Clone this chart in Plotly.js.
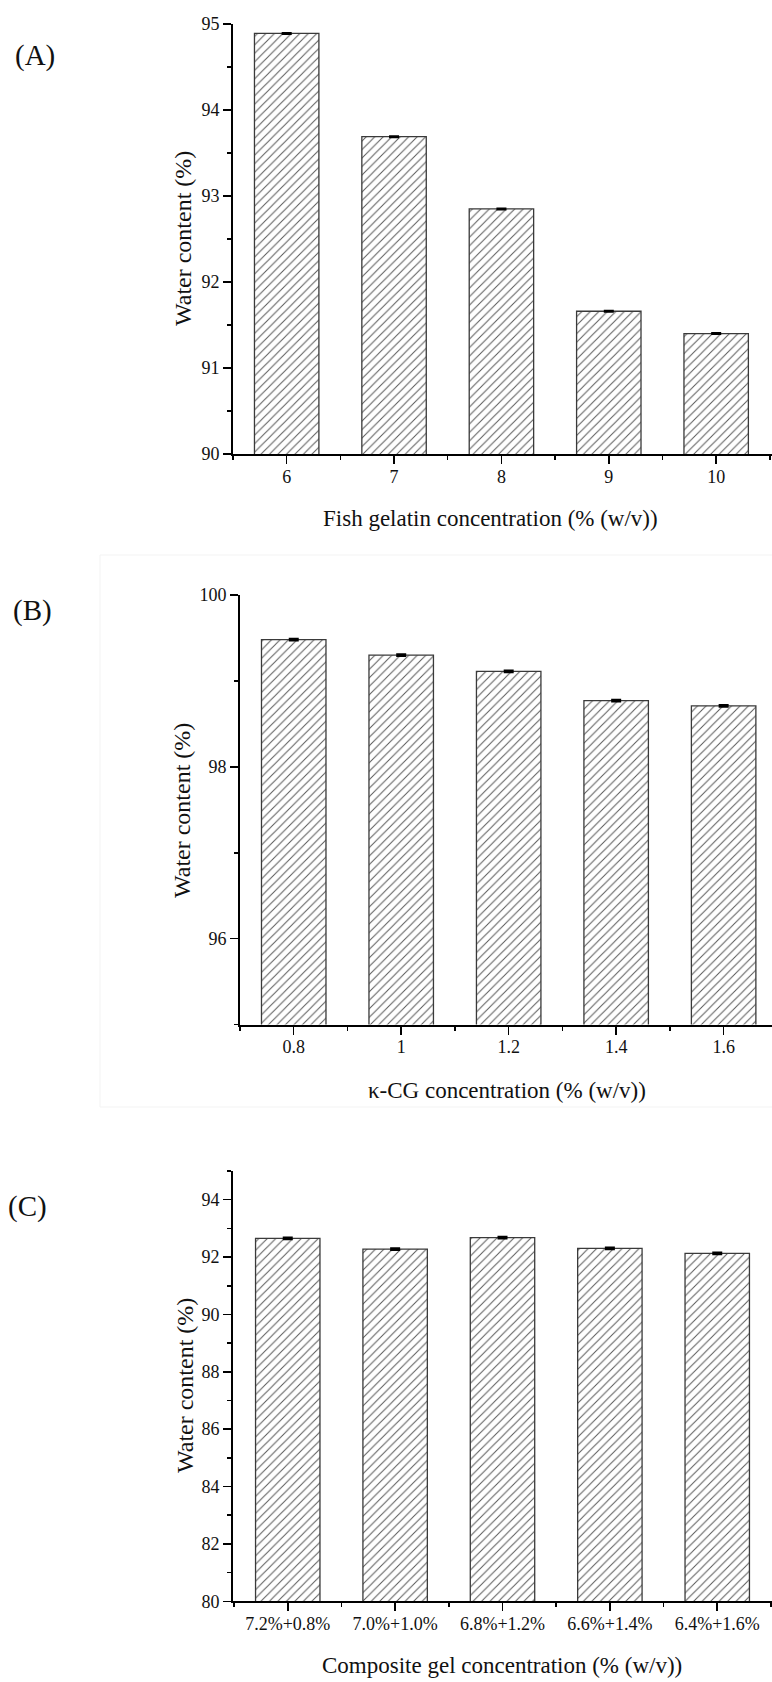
<!DOCTYPE html>
<html>
<head>
<meta charset="utf-8">
<script src="https://cdn.plot.ly/plotly-3.0.1.min.js"></script>
<style>
html,body{margin:0;padding:0;background:#fff;}
#chart{width:772px;height:1682px;}
</style>
</head>
<body>
<div id="chart"></div>
<script>
// ---- data ----
const catsA = ['6', '7', '8', '9', '10'];
const valsA = [94.89, 93.69, 92.85, 91.66, 91.40];
const errA  = [0.006, 0.006, 0.006, 0.006, 0.006];

const catsB = ['0.8', '1', '1.2', '1.4', '1.6'];
const valsB = [99.48, 99.30, 99.11, 98.77, 98.71];
const errB  = [0.01, 0.01, 0.01, 0.01, 0.01];

const catsC = ['7.2%+0.8%', '7.0%+1.0%', '6.8%+1.2%', '6.6%+1.4%', '6.4%+1.6%'];
const valsC = [92.65, 92.28, 92.68, 92.30, 92.13];
const errC  = [0.03, 0.03, 0.03, 0.03, 0.03];

const yTitle = 'Water content (%)';
const xTitleA = 'Fish gelatin concentration (% (w/v))';
const xTitleB = '\u03BA-CG concentration (% (w/v))';
const xTitleC = 'Composite gel concentration (% (w/v))';

// ---- styling ----
const W = 772, H = 1682;
const FONT = 'Liberation Serif, Times New Roman, serif';
const idx = arr => arr.map((_, i) => i);

function barTrace(cats, vals, errs, xa, ya) {
  return {
    type: 'bar',
    x: idx(cats), y: vals,
    xaxis: xa, yaxis: ya,
    width: 0.6,
    marker: {
      color: '#ffffff',
      pattern: {shape: '/', size: 6, solidity: 0.17, fgcolor: '#5c5c5c', bgcolor: '#ffffff'},
      line: {color: '#3a3a3a', width: 1.3}
    },
    error_y: {type: 'data', array: errs, visible: true, color: '#000', thickness: 2, width: 5},
    hoverinfo: 'skip',
    showlegend: false
  };
}

function xAxis(cats, domainX, range, anchor) {
  return {
    domain: domainX, anchor: anchor, range: range,
    tickmode: 'array', tickvals: idx(cats), ticktext: cats,
    ticks: 'outside', ticklen: 8, tickwidth: 1.5, tickcolor: '#000',
    ticklabelstandoff: -3,
    minor: {tickmode: 'linear', tick0: -0.5, dtick: 1, ticks: 'outside', ticklen: 4, tickwidth: 1.5, tickcolor: '#000'},
    showline: true, linecolor: '#000', linewidth: 2,
    showgrid: false, zeroline: false, fixedrange: true,
    tickfont: {family: FONT, size: 18, color: '#111'}
  };
}

function yAxis(domainY, range, tick0, dtick, minorD, anchor) {
  return {
    domain: domainY, anchor: anchor, range: range,
    tickmode: 'linear', tick0: tick0, dtick: dtick,
    ticks: 'outside', ticklen: 8, tickwidth: 1.5, tickcolor: '#000',
    minor: {tickmode: 'linear', tick0: tick0, dtick: minorD, ticks: 'outside', ticklen: 4, tickwidth: 1.5, tickcolor: '#000'},
    showline: true, linecolor: '#000', linewidth: 2,
    showgrid: false, zeroline: false, fixedrange: true,
    tickfont: {family: FONT, size: 18, color: '#111'}
  };
}

const py = p => 1 - p / H;
const px = p => p / W;

const layout = {
  width: W, height: H,
  margin: {l: 0, r: 0, t: 0, b: 0},
  paper_bgcolor: '#fff', plot_bgcolor: 'rgba(0,0,0,0)',
  showlegend: false,
  bargap: 0.4,
  xaxis:  xAxis(catsA, [px(233), 1], [-0.5, 4.52], 'y'),
  yaxis:  yAxis([py(454), py(24)], [90, 95], 90, 1, 0.5, 'x'),
  xaxis2: xAxis(catsB, [px(240), 1], [-0.5, 4.45], 'y2'),
  yaxis2: yAxis([py(1024.6), py(595)], [95, 100], 96, 2, 1, 'x2'),
  xaxis3: xAxis(catsC, [px(233), 1], [-0.51, 4.51], 'y3'),
  yaxis3: yAxis([py(1601.3), py(1171)], [80, 95], 80, 2, 1, 'x3'),
  shapes: [
    {type: 'rect', xref: 'paper', yref: 'paper', x0: px(100), x1: 1.01, y0: py(1107), y1: py(555),
     line: {color: '#f3f3f3', width: 1}, fillcolor: 'rgba(0,0,0,0)', layer: 'below'}
  ],
  annotations: []
};

function ann(text, x, y, size, angle) {
  return {text: text, xref: 'paper', yref: 'paper', x: px(x), y: py(y),
          xanchor: 'center', yanchor: 'middle', showarrow: false,
          textangle: angle || 0, font: {family: FONT, size: size, color: '#111'}};
}

layout.annotations.push(
  ann('(A)', 35, 55, 29),
  ann('(B)', 32, 610, 29),
  ann('(C)', 27, 1206, 29),
  ann(yTitle, 183, 239, 24, -90),
  ann(yTitle, 182, 811, 24, -90),
  ann(yTitle, 185, 1386, 24, -90),
  ann(xTitleA, 490, 518, 23),
  ann(xTitleB, 507, 1090, 23),
  ann(xTitleC, 502, 1665, 23)
);

const data = [
  barTrace(catsA, valsA, errA, 'x', 'y'),
  barTrace(catsB, valsB, errB, 'x2', 'y2'),
  barTrace(catsC, valsC, errC, 'x3', 'y3')
];

Plotly.newPlot('chart', data, layout, {staticPlot: true, displayModeBar: false});
</script>
</body>
</html>
